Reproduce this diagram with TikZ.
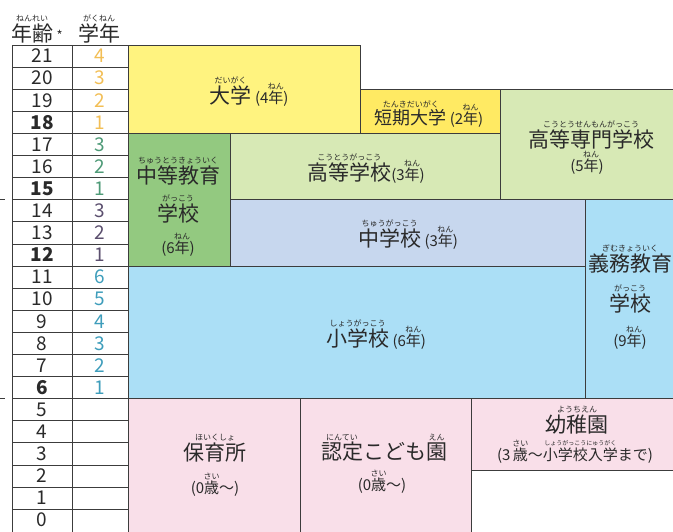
\documentclass[tikz,border=0pt]{standalone}
\usepackage{fontspec}
\setmainfont{Noto Sans CJK JP}

\definecolor{univ}{HTML}{FFF37F}
\definecolor{tandai}{HTML}{FFEA63}
\definecolor{koko}{HTML}{D7E9B5}
\definecolor{chuto}{HTML}{93C980}
\definecolor{chugaku}{HTML}{C7D7EE}
\definecolor{shogaku}{HTML}{ABDFF6}
\definecolor{yoji}{HTML}{F9DFE9}
\definecolor{rule}{HTML}{3C3C3C}
\definecolor{ink}{HTML}{2A2A2A}
\definecolor{gu}{HTML}{F2BE55}
\definecolor{gk}{HTML}{4E9A77}
\definecolor{gc}{HTML}{5B4F6E}
\definecolor{gs}{HTML}{3E9DBB}

% furigana over a word
\newcommand{\rbfont}{\fontsize{8}{8}\selectfont}
\newcommand{\rb}[2]{\leavevmode\setbox0\hbox{#1}\vbox{\offinterlineskip\hbox to\wd0{\hss\rbfont #2\hss}\kern1pt\box0}}
\newcommand{\yrs}[1]{{\fontsize{15}{15}\selectfont(#1\rb{年}{ねん})}}
\newcommand{\sai}[1]{{\fontsize{15}{15}\selectfont(#1\rb{歳}{さい}〜)}}

\begin{document}
\begin{tikzpicture}[x=1pt,y=-1pt,
  box/.style={draw=rule,line width=.8pt},
  grid/.style={draw=rule,line width=.8pt},
  num/.style={font=\fontsize{19}{19}\selectfont,text=ink,inner sep=0},
  lbl/.style={font=\fontsize{21}{21}\selectfont,text=ink,inner sep=0,anchor=base,align=center}]

\useasboundingbox (0,0) rectangle (673,531);

% table of ages and grades
\foreach \a [count=\i from 0] in {21,20,19,{\bfseries18},17,16,{\bfseries15},14,13,{\bfseries12},11,10,9,8,7,{\bfseries6},5,4,3,2,1,0}
  \node[num] (age\i) at (42,{45+(\i+.5)*22.1}) {\a};
\foreach \g/\c [count=\i from 0] in {4/gu,3/gu,2/gu,1/gu,3/gk,2/gk,1/gk,3/gc,2/gc,1/gc,6/gs,5/gs,4/gs,3/gs,2/gs,1/gs}
  \node[num,text=\c] (grade\i) at (100,{45+(\i+.5)*22.1}) {\g};
\foreach \i in {0,...,21}
  \draw[grid] (12,{45+\i*22.1}) -- (128,{45+\i*22.1});
\foreach \x in {12,72,128}
  \draw[grid] (\x,45) -- (\x,535);
\draw[grid] (0,199.7) -- (5,199.7);
\draw[grid] (0,398.6) -- (5,398.6);

\node[lbl] (nenrei) at (37,41) {\rb{年齢}{ねんれい}\,\raisebox{1pt}{\fontsize{13}{13}\selectfont *}};
\node[lbl] (gakunen) at (99,41) {\rb{学年}{がくねん}};

% schools
\draw[box,fill=univ] (128,45) rectangle (360,133.4);
\draw[box,fill=tandai] (360,89.2) rectangle (500,133.4);
\draw[box,fill=koko] (500,89.2) rectangle (680,199.7);
\draw[box,fill=chuto] (128,133.4) rectangle (230,266);
\draw[box,fill=koko] (230,133.4) rectangle (500,199.7);
\draw[box,fill=chugaku] (230,199.7) rectangle (585,266);
\draw[box,fill=shogaku] (585,199.7) rectangle (680,398.6);
\draw[box,fill=shogaku] (128,266) rectangle (585,398.6);
\draw[box,fill=yoji] (128,398.6) rectangle (300,535);
\draw[box,fill=yoji] (300,398.6) rectangle (471,535);
\draw[box,fill=yoji] (471,398.6) rectangle (680,470);

\node[lbl] (daigaku) at (249,103) {\rb{大学}{だいがく}\,\yrs{4}};
\node[lbl,font=\fontsize{18}{18}\selectfont] (tandai) at (429,124) {\rb{短期大学}{たんきだいがく}\,\yrs{2}};
\node[lbl] (kosen) at (591,147) {\rb{高等専門学校}{こうとうせんもんがっこう}};
\node[lbl] (kosen2) at (587,171) {\yrs{5}};
\node[lbl] (chuto) at (178,183) {\rb{中等教育}{ちゅうとうきょういく}};
\node[lbl] (chuto2) at (178,221) {\rb{学校}{がっこう}};
\node[lbl] (chuto3) at (178,253) {\yrs{6}};
\node[lbl] (koko) at (366,180) {\rb{高等学校}{こうとうがっこう}\yrs{3}};
\node[lbl] (chugaku) at (408,246) {\rb{中学校}{ちゅうがっこう}\,\yrs{3}};
\node[lbl] (gimu) at (630,271) {\rb{義務教育}{ぎむきょういく}};
\node[lbl] (gimu2) at (630,311) {\rb{学校}{がっこう}};
\node[lbl] (gimu3) at (630,346) {\yrs{9}};
\node[lbl] (shogaku) at (376,346) {\rb{小学校}{しょうがっこう}\,\yrs{6}};
\node[lbl] (hoiku) at (215,460) {\rb{保育所}{ほいくしょ}};
\node[lbl] (hoiku2) at (215,493) {\sai{0}};
\node[lbl] (nintei) at (384,459) {\rb{認定}{にんてい}こども\rb{園}{えん}};
\node[lbl] (nintei2) at (382,490) {\sai{0}};
\node[lbl] (yochien) at (577,432) {\rb{幼稚園}{ようちえん}};
\node[lbl,font=\fontsize{15}{15}\selectfont] (yochien2) at (575,460) {(3\,\rb{歳}{さい}〜\rb{小学校入学}{\fontsize{6}{6}\selectfont しょうがっこうにゅうがく}まで)};
\end{tikzpicture}
\end{document}
